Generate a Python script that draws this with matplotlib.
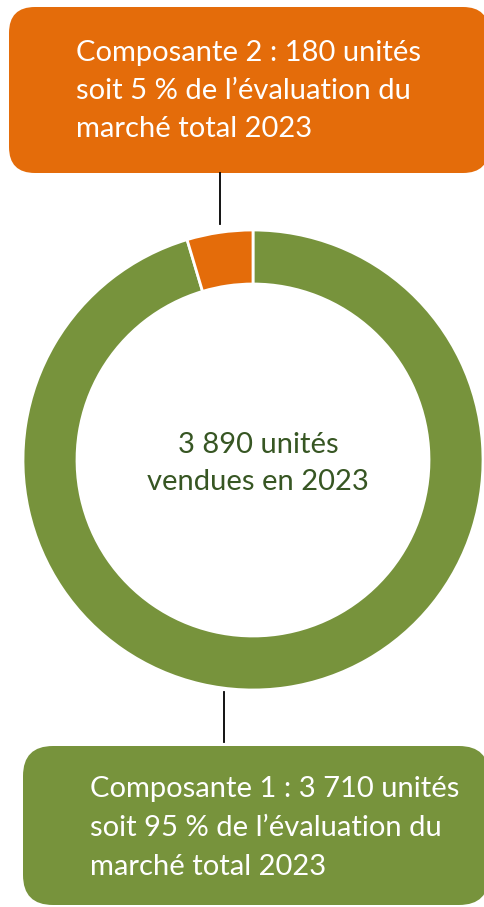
import matplotlib
matplotlib.use("Agg")
import matplotlib.pyplot as plt
from matplotlib.patches import FancyBboxPatch

# Data
categories = ["Composante 1", "Composante 2"]
values = [3710, 180]
colors = ["#77933C", "#E46C0A"]
center_lines = ["3 890 unités", "vendues en 2023"]
top_lines = ["Composante 2 : 180 unités", "soit 5 % de l\u2019évaluation du", "marché total 2023"]
bottom_lines = ["Composante 1 : 3 710 unités", "soit 95 % de l\u2019évaluation du", "marché total 2023"]

W, H = 484, 907
fig = plt.figure(figsize=(W / 100, H / 100), dpi=100)
ax = fig.add_axes([0, 0, 1, 1])

FONT = ["Lato", "DejaVu Sans"]

def Y(y):
    return H - y

# Donut
ax.pie(values, colors=colors, startangle=90, counterclock=False,
       radius=230, center=(253, Y(460)),
       wedgeprops=dict(width=54, edgecolor="white", linewidth=2))

# Boxes
top_box = FancyBboxPatch((9, Y(173)), 480, 166, boxstyle="round,pad=0,rounding_size=26",
                         facecolor=colors[1], edgecolor="none")
bot_box = FancyBboxPatch((23, Y(905)), 466, 159, boxstyle="round,pad=0,rounding_size=30",
                         facecolor=colors[0], edgecolor="none")
ax.add_patch(top_box)
ax.add_patch(bot_box)

# Connector lines
ax.plot([220, 220], [Y(173), Y(224)], color="black", lw=1.3)
ax.plot([224, 224], [Y(692), Y(742)], color="black", lw=1.3)

# Texts
fs = 21
for i, t in enumerate(top_lines):
    ax.text(76, Y(61 + 38 * i), t, color="white", fontsize=fs, family=FONT,
            ha="left", va="baseline")
for i, t in enumerate(bottom_lines):
    ax.text(90, Y(797 + 39 * i), t, color="white", fontsize=fs, family=FONT,
            ha="left", va="baseline")
for i, t in enumerate(center_lines):
    ax.text(258, Y(453 + 37 * i), t, color="#375623", fontsize=fs, family=FONT,
            ha="center", va="baseline")

ax.set_xlim(0, W)
ax.set_ylim(0, H)
ax.set_aspect("auto")
ax.axis("off")

fig.savefig("out.png", dpi=100)
